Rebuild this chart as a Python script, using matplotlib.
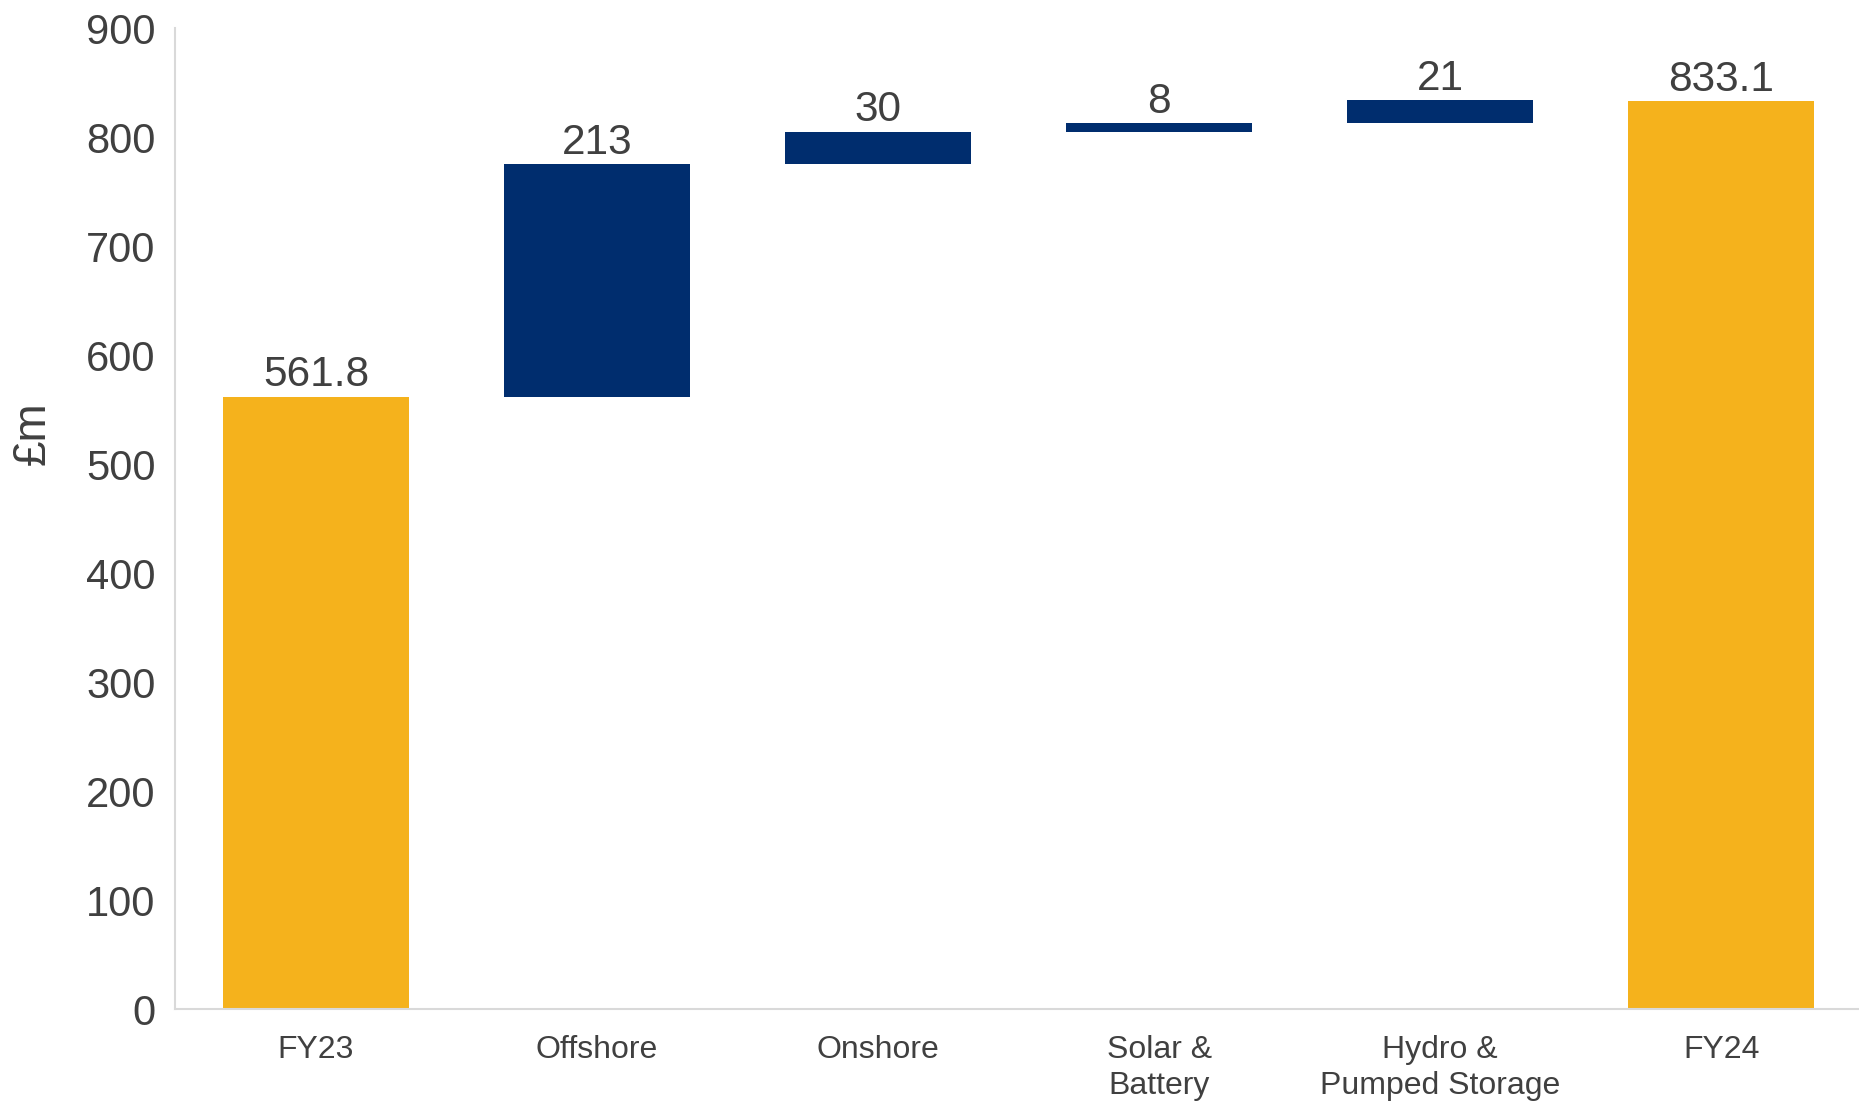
import numpy as np
import matplotlib.pyplot as plt

plt.rcParams['font.family'] = ['Liberation Sans', 'DejaVu Sans']

categories = ['FY23', 'Offshore', 'Onshore', 'Solar &\nBattery', 'Hydro &\nPumped Storage', 'FY24']
values = [561.8, 213, 30, 8, 21, 833.1]
is_total = [True, False, False, False, False, True]
labels = ['561.8', '213', '30', '8', '21', '833.1']

gold = '#F5B21C'
navy = '#002D6E'
text_col = '#404040'
spine_col = '#D9D9D9'

# waterfall bottoms: totals start at zero, steps start at running sum
bottoms = []
running = 0
for v, tot in zip(values, is_total):
    if tot:
        bottoms.append(0)
        running = v
    else:
        bottoms.append(running)
        running += v
colors = [gold if t else navy for t in is_total]

fig = plt.figure(figsize=(18.59, 11.03), dpi=100)
ax = fig.add_axes([0.0941, 0.0852, 0.9059, 0.8894])

x = np.arange(len(categories))
bars = ax.bar(x, values, bottom=bottoms, width=0.662, color=colors, linewidth=0)

for xi, b, v, lab in zip(x, bottoms, values, labels):
    ax.annotate(lab, (xi, b + v), xytext=(0, 1), textcoords='offset points',
                ha='center', va='bottom', fontsize=30.5, color=text_col)

ax.set_xlim(-0.502, 5.49)
ax.set_ylim(0, 900)
ax.set_yticks(np.arange(0, 901, 100))
ax.set_xticks(x)
ax.set_xticklabels(categories, fontsize=23, color=text_col, linespacing=1.25)
ax.tick_params(axis='y', labelsize=30, labelcolor=text_col, length=0, pad=14)
ax.tick_params(axis='x', length=0, pad=19)

ax.set_ylabel('£m', fontsize=33, color=text_col, va='center')
ax.yaxis.set_label_coords(-0.0843, 0.587)

for s in ['top', 'right']:
    ax.spines[s].set_visible(False)
for s in ['left', 'bottom']:
    ax.spines[s].set_color(spine_col)
    ax.spines[s].set_linewidth(1.5)

fig.savefig('out.png', dpi=100)
